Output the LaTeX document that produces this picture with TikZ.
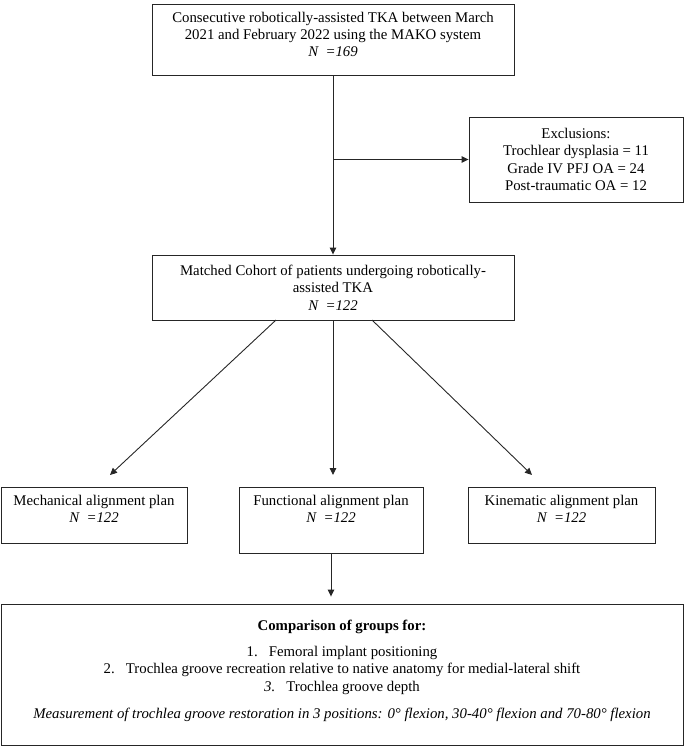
\documentclass[tikz,border=0pt]{standalone}
\usepackage{fontspec}
\setmainfont{Liberation Serif}
\usetikzlibrary{arrows.meta,calc}
\begin{document}
\begin{tikzpicture}[x=1pt,y=-1pt,
  box/.style={draw=black!85,line width=0.9pt,inner sep=0pt},
  txt/.style={align=center,inner sep=0pt,font=\fontsize{14.8}{17.4}\selectfont},
  arr/.style={draw=black!85,line width=0.9pt,-{Triangle[length=7pt,width=6.5pt]}},
  ln/.style={draw=black!85,line width=0.9pt}]
\useasboundingbox (0,0) rectangle (685,748);
% boxes
\node[box,minimum width=362,minimum height=71] (top) at (333,39.5) {};
\node[box,minimum width=214,minimum height=85] (excl) at (576,159.5) {};
\node[box,minimum width=362,minimum height=65] (match) at (333,287.5) {};
\node[box,minimum width=186,minimum height=56] (mech) at (94,515) {};
\node[box,minimum width=184,minimum height=66] (func) at (331,520) {};
\node[box,minimum width=187,minimum height=56] (kin) at (561.5,515) {};
\node[box,minimum width=682,minimum height=141] (comp) at (342,674.5) {};
% texts
\node[txt,anchor=north] (ttop) at ($(top.north)+(0,8)$) {Consecutive robotically-assisted TKA between March\\2021 and February 2022 using the MAKO system\\\textit{N\ \ =169}};
\node[txt] (texcl) at (excl.center) {Exclusions:\\Trochlear dysplasia = 11\\Grade IV PFJ OA = 24\\Post-traumatic OA = 12};
\node[txt] (tmatch) at (match.center) {Matched Cohort of patients undergoing robotically-\\assisted TKA\\\textit{N\ \ =122}};
\node[txt,anchor=north] (tmech) at ($(mech.north)+(0,8)$) {Mechanical alignment plan\\\textit{N\ \ =122}};
\node[txt,anchor=north] (tfunc) at ($(func.north)+(0,8)$) {Functional alignment plan\\\textit{N\ \ =122}};
\node[txt,anchor=north] (tkin) at ($(kin.north)+(0,8)$) {Kinematic alignment plan\\\textit{N\ \ =122}};
\node[txt,anchor=north] (tcomp) at ($(comp.north)+(0,16)$) {\textbf{Comparison of groups for:}\\[9pt]
1.\ \ \ Femoral implant positioning\\
2.\ \ \ Trochlea groove recreation relative to native anatomy for medial-lateral shift\\
\textit{3.}\ \ \ Trochlea groove depth\\[10pt]
\textit{Measurement of trochlea groove restoration in 3 positions: 0° flexion, 30-40° flexion and 70-80° flexion}};
% connectors
\coordinate (br) at (top.south |- excl.west);
\draw[arr] (top.south) -- (match.north);
\draw[arr] (br) -- (excl.west);
\coordinate (m1) at (276,320);
\coordinate (m2) at (333,320);
\coordinate (m3) at (372,320);
\coordinate (a1) at (110,475);
\coordinate (a2) at (333,475);
\coordinate (a3) at (532,475);
\draw[arr] (m1) -- (a1);
\draw[arr] (m2) -- (a2);
\draw[arr] (m3) -- (a3);
\draw[arr] (func.south) -- ($(comp.north -| func.south)+(0,-7)$);
\end{tikzpicture}
\end{document}
